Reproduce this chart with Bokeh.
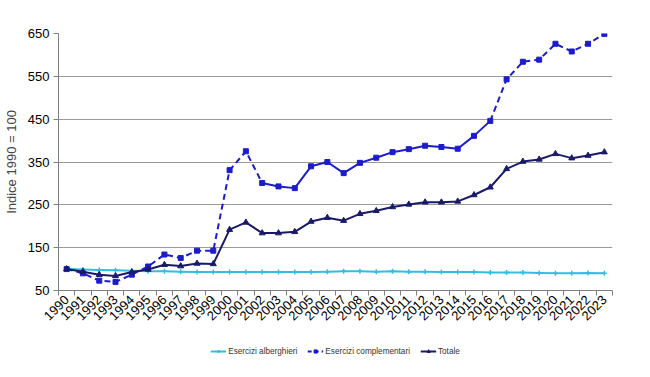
from math import pi
from bokeh.plotting import figure
from bokeh.layouts import column
from bokeh.models import Range1d, FixedTicker, Legend, LegendItem, ColumnDataSource
from bokeh.embed import file_html
from bokeh.resources import INLINE

years = [str(y) for y in range(1990, 2024)]
alberghieri = [100, 99, 98, 97, 96, 95, 95, 94, 93, 93, 93, 93, 93, 93, 93, 93, 94, 95, 95, 94,
               95, 94, 94, 93, 93, 93, 92, 92, 92, 91, 90, 90, 91, 90]
complementari = [100, 90, 73, 70, 87, 106, 134, 126, 143, 143, 331, 375, 301, 293, 289, 340,
                 350, 324, 348, 360, 373, 380, 388, 385, 381, 411, 446, 543, 584, 589, 626, 608,
                 626, 649]
totale = [100, 94, 87, 84, 93, 99, 110, 107, 113, 112, 192, 209, 184, 184, 187, 211, 220, 213,
          229, 236, 245, 251, 256, 256, 258, 273, 291, 334, 351, 356, 369, 359, 365, 373]
y_ticks = [50, 150, 250, 350, 450, 550, 650]
series_names = ["Esercizi alberghieri", "Esercizi complementari", "Totale"]
# dashed / solid pieces of the 'complementari' line (index ranges)
dash_segments = [(0, 12, "6 4"), (12, 26, "solid"), (26, 33, "6 4")]

FONT = "Liberation Sans"
C_ALB = "#33bde0"
C_COMP = "#1c1ccc"
C_TOT = "#1a1a6b"

xs = [i + 0.5 for i in range(len(years))]

p = figure(width=650, height=330, output_backend="svg", toolbar_location=None,
           x_range=Range1d(0, len(years)), y_range=Range1d(50, 650),
           min_border_left=55, min_border_right=38, min_border_top=33, min_border_bottom=40)
p.outline_line_color = None
p.background_fill_color = "white"
p.border_fill_color = "white"

p.xgrid.grid_line_color = None
p.ygrid.grid_line_color = "#9a9a9a"
p.ygrid.grid_line_width = 1
p.yaxis.ticker = FixedTicker(ticks=y_ticks)
p.xaxis.ticker = FixedTicker(ticks=xs, minor_ticks=list(range(len(years) + 1)))
p.xaxis.major_label_overrides = {x: y for x, y in zip(xs, years)}
p.xaxis.major_label_orientation = pi / 4
p.xaxis.major_tick_out = 0
p.xaxis.minor_tick_out = 5
p.xaxis.minor_tick_in = 0
p.xaxis.minor_tick_line_color = "#808080"
p.yaxis.minor_tick_line_color = None
p.yaxis.major_tick_in = 0
p.yaxis.major_tick_out = 5
for ax in (p.xaxis, p.yaxis):
    ax.axis_line_color = "#808080"
    ax.major_label_text_font = FONT
    ax.major_label_text_font_size = "13px"
    ax.major_label_text_color = "#000000"
p.xaxis.major_tick_line_color = None
p.yaxis.major_tick_line_color = "#808080"
p.xaxis.major_label_standoff = 2
p.yaxis.major_label_standoff = 4
p.yaxis.axis_label = "Indice 1990 = 100"
p.yaxis.axis_label_text_font = FONT
p.yaxis.axis_label_text_font_size = "13px"
p.yaxis.axis_label_text_font_style = "normal"
p.yaxis.axis_label_standoff = 6

src = ColumnDataSource(dict(x=xs, alb=alberghieri, comp=complementari, tot=totale))

p.line("x", "alb", source=src, color=C_ALB, line_width=2)
p.scatter("x", "alb", source=src, marker="cross", size=5, color=C_ALB, line_width=1.5)
for a, b, dash in dash_segments:
    p.line(xs[a:b + 1], complementari[a:b + 1], color=C_COMP, line_width=2, line_dash=dash)
p.scatter("x", "comp", source=src, marker="square", size=5, color=C_COMP)
p.line("x", "tot", source=src, color=C_TOT, line_width=2)
p.scatter("x", "tot", source=src, marker="triangle", size=6, color=C_TOT)

# legend strip below the chart (its ranges keep the series themselves out of view)
lg = figure(width=650, height=42, output_backend="svg", toolbar_location=None,
            x_range=Range1d(0, 1), y_range=Range1d(0, 1),
            x_axis_location=None, y_axis_location=None,
            min_border=0, min_border_left=0, min_border_right=0,
            min_border_top=0, min_border_bottom=0)
lg.grid.visible = False
lg.outline_line_color = None
g1 = lg.line("x", "alb", source=src, color=C_ALB, line_width=2)
g1m = lg.scatter("x", "alb", source=src, marker="cross", size=5, color=C_ALB, line_width=1.5)
g2 = lg.line("x", "comp", source=src, color=C_COMP, line_width=2, line_dash="4 3")
g2m = lg.scatter("x", "comp", source=src, marker="square", size=5, color=C_COMP)
g3 = lg.line("x", "tot", source=src, color=C_TOT, line_width=2)
g3m = lg.scatter("x", "tot", source=src, marker="triangle", size=6, color=C_TOT)

legend = Legend(items=[
    LegendItem(label=series_names[0], renderers=[g1, g1m], index=0),
    LegendItem(label=series_names[1], renderers=[g2, g2m], index=0),
    LegendItem(label=series_names[2], renderers=[g3, g3m], index=0),
], orientation="horizontal", location="center", label_text_font=FONT,
    label_text_font_size="8.2px", label_text_color="#333333", glyph_width=16, glyph_height=8,
    spacing=10, padding=0, border_line_color=None, background_fill_alpha=0,
    label_standoff=2, margin=0, label_height=10)
lg.add_layout(legend, "center")

layout = column(p, lg, spacing=0)
open("out.html", "w").write(file_html(layout, INLINE))
